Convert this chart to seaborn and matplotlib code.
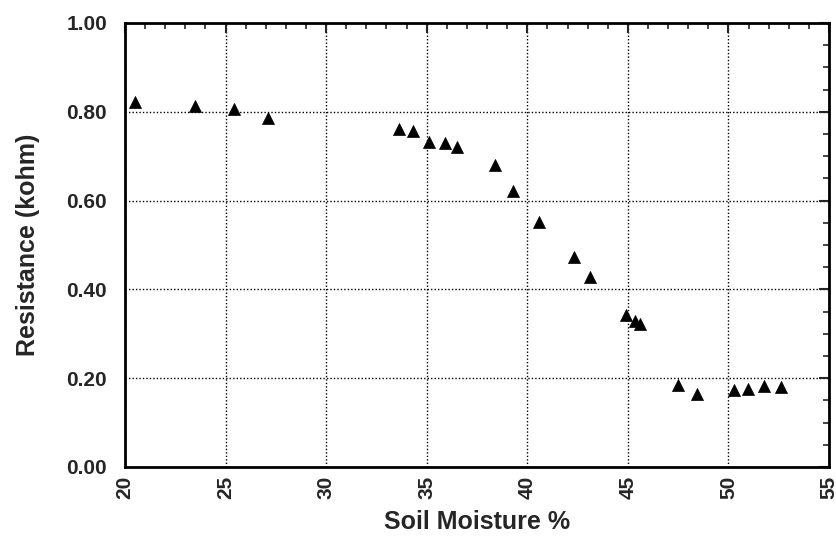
import matplotlib
matplotlib.use("Agg")
import matplotlib.pyplot as plt
import seaborn as sns
import pandas as pd
from matplotlib.ticker import MultipleLocator

soil_moisture = [20.5, 23.5, 25.4, 27.1, 33.6, 34.3, 35.1, 35.9, 36.5, 38.4, 39.3,
                 40.6, 42.3, 43.1, 44.9, 45.35, 45.6, 47.5, 48.45, 50.3, 50.95, 51.75, 52.6]
resistance = [0.822, 0.813, 0.807, 0.786, 0.761, 0.756, 0.733, 0.730, 0.721, 0.680, 0.622,
              0.552, 0.473, 0.428, 0.343, 0.328, 0.323, 0.185, 0.164, 0.173, 0.175, 0.182, 0.180]
x_ticks = [20, 25, 30, 35, 40, 45, 50, 55]
y_ticks = [0.0, 0.2, 0.4, 0.6, 0.8, 1.0]
y_tick_labels = ["0.00", "0.20", "0.40", "0.60", "0.80", "1.00"]

df = pd.DataFrame({"Soil Moisture %": soil_moisture, "Resistance (kohm)": resistance})

sns.set_style("white")
plt.rcParams["font.family"] = ["Liberation Sans", "DejaVu Sans"]

fig = plt.figure(figsize=(8.37, 5.38), dpi=100)
ax = fig.add_axes([125/837, 1-467/538, (829-125)/837, (467-23)/538])

sns.scatterplot(data=df, x="Soil Moisture %", y="Resistance (kohm)", marker="^",
                color="black", s=75, edgecolor="black", linewidth=0.5, ax=ax, zorder=3)

ax.set_xlim(20, 55)
ax.set_ylim(0, 1.0)
ax.xaxis.set_minor_locator(MultipleLocator(1))
ax.yaxis.set_minor_locator(MultipleLocator(0.05))
ax.set_yticks(y_ticks)
ax.set_yticklabels(y_tick_labels)
ax.set_xticks(x_ticks)
ax.set_xticklabels([str(v) for v in x_ticks], rotation=90)

ax.grid(True, which="major", color="black", linestyle=(0, (1, 1.5)), linewidth=1.0)
ax.tick_params(which="major", direction="in", length=7, width=1.5, top=True, right=True,
               labelsize=15)
ax.tick_params(axis="y", which="major", pad=13)
ax.tick_params(axis="x", which="major", pad=6)
ax.tick_params(which="minor", direction="in", length=4, width=1.2, top=True, right=True)
for lab in ax.get_xticklabels() + ax.get_yticklabels():
    lab.set_fontweight("bold")
for sp in ax.spines.values():
    sp.set_linewidth(2)
    sp.set_color("black")

ax.set_xlabel("Soil Moisture %", fontsize=18, fontweight="bold", labelpad=8)
ax.set_ylabel("Resistance (kohm)", fontsize=18, fontweight="bold", labelpad=19)

fig.savefig("out.png", dpi=100)
